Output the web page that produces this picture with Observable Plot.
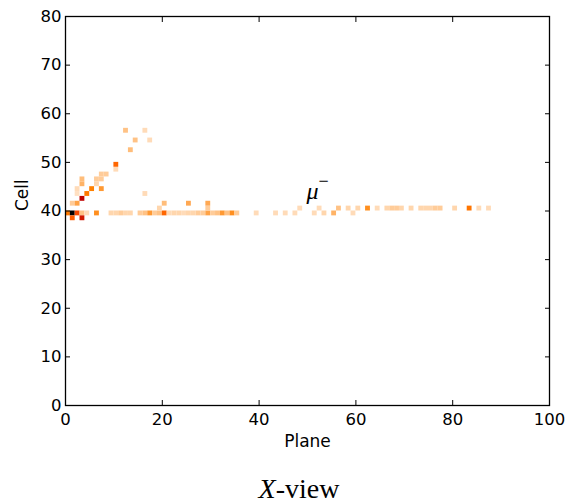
<!DOCTYPE html>
<html><head><meta charset="utf-8">
<script src="https://cdn.jsdelivr.net/npm/d3@7"></script>
<script src="https://cdn.jsdelivr.net/npm/@observablehq/plot@0.6"></script>
<style>
body{margin:0;background:#fff;}
#chart{position:absolute;left:0;top:0;}
#title{position:absolute;top:477px;left:0;width:598px;height:24px;line-height:24px;text-align:center;font-family:"Liberation Serif","Times New Roman",serif;font-size:28px;color:#000;}
</style></head><body>
<div id="chart"></div>
<div id="title"><i>X</i>-view</div>
<script>
// hit positions (plane index, cell index) and deposited charge (relative)
const planes = [
  0,1,2,3,4,6,9,10,11,12,13,15,16,17,18,19,20,21,22,23,24,25,26,27,28,29,30,31,32,33,34,35,39,43,45,47,51,53,55,59,
  19,29,48,52,56,58,60,62,64,66,67,68,69,71,73,74,75,76,77,80,83,85,87,
  1,3,
  1,2,20,25,29,
  3,
  2,4,16,
  2,5,7,
  3,6,
  3,6,7,
  7,8,
  10,
  10,
  13,
  14,17,
  12,16
];
const cells = [
  39,39,39,39,39,39,39,39,39,39,39,39,39,39,39,39,39,39,39,39,39,39,39,39,39,39,39,39,39,39,39,39,39,39,39,39,39,39,39,39,
  40,40,40,40,40,40,40,40,40,40,40,40,40,40,40,40,40,40,40,40,40,40,40,
  38,38,
  41,41,41,41,41,
  42,
  43,43,43,
  44,44,44,
  45,45,
  46,46,46,
  47,47,
  48,
  49,
  52,
  54,54,
  56,56
];
const charges = [
  0.26,1.0,0.36,0.12,0.07,0.22,0.08,0.08,0.1,0.08,0.08,0.1,0.12,0.2,0.1,0.12,0.3,0.07,0.08,0.08,0.07,0.08,0.08,0.1,0.1,0.18,0.1,0.12,0.2,0.12,0.22,0.1,0.07,0.07,0.07,0.07,0.07,0.08,0.15,0.07,
  0.08,0.1,0.07,0.07,0.12,0.08,0.08,0.22,0.07,0.08,0.1,0.1,0.08,0.08,0.08,0.08,0.08,0.1,0.1,0.08,0.27,0.07,0.07,
  0.32,0.45,
  0.1,0.18,0.13,0.17,0.17,
  0.5,
  0.06,0.26,0.07,
  0.07,0.25,0.2,
  0.15,0.08,
  0.13,0.1,0.1,
  0.1,0.1,
  0.07,
  0.3,
  0.13,
  0.12,0.07,
  0.12,0.07
];
const xTicks = [0,20,40,60,80,100];
const yTicks = [0,10,20,30,40,50,60,70,80];
const xLabel = "Plane";
const yLabel = "Cell";
const particleLabel = "μ";
const particleSup = "−";
const labelPlane = 49.8;
const labelCell = 44;

const hits = planes.map((p, i) => ({plane: p, cell: cells[i], q: charges[i]}));

// gist_heat reversed
const gistHeatR = t => {
  const x = 1 - t;
  const c = v => Math.round(255 * Math.max(0, Math.min(1, v)));
  return `rgb(${c(1.5 * x)},${c(2 * x - 1)},${c(4 * x - 3)})`;
};

const font = {fontFamily: "DejaVu Sans", fontSize: 17, fill: "black"};

const chart = Plot.plot({
  width: 568,
  height: 460,
  marginLeft: 65,
  marginRight: 19,
  marginTop: 16,
  marginBottom: 55,
  style: {fontFamily: "DejaVu Sans", fontSize: "16px", color: "black", background: "white"},
  x: {domain: [0, 100], ticks: xTicks},
  y: {domain: [0, 80], ticks: yTicks},
  color: {type: "linear", domain: [0, 1], interpolate: gistHeatR},
  marks: [
    Plot.rect(hits, {x1: d => d.plane, x2: d => d.plane + 1, y1: d => d.cell, y2: d => d.cell + 1, fill: "q"}),
    Plot.frame({stroke: "black", strokeWidth: 1.3}),
    Plot.axisX({anchor: "bottom", ticks: xTicks, tickSize: -5, tickPadding: 13, label: null, fontSize: 16.5, stroke: "black"}),
    Plot.axisX({anchor: "top", ticks: xTicks, tickSize: -5, tickFormat: () => "", label: null}),
    Plot.axisY({anchor: "left", ticks: yTicks, tickSize: -5, tickPadding: 9, label: null, fontSize: 16.5}),
    Plot.axisY({anchor: "right", ticks: yTicks, tickSize: -5, tickFormat: () => "", label: null}),
    Plot.text([xLabel], {frameAnchor: "bottom", text: d => d, dy: 41, ...font}),
    Plot.text([yLabel], {frameAnchor: "left", text: d => d, dx: -43, rotate: -90, ...font}),
    Plot.text([particleLabel], {x: () => labelPlane, y: () => labelCell, text: d => d, fontFamily: "Liberation Serif", fontStyle: "italic", fontSize: 24, textAnchor: "start", fill: "black"}),
    Plot.text([particleSup], {x: () => labelPlane, y: () => labelCell, text: d => d, dx: 12, dy: -10, fontFamily: "Liberation Serif", fontSize: 18, textAnchor: "start", fill: "black"})
  ]
});
document.getElementById("chart").appendChild(chart);
</script>
</body></html>
